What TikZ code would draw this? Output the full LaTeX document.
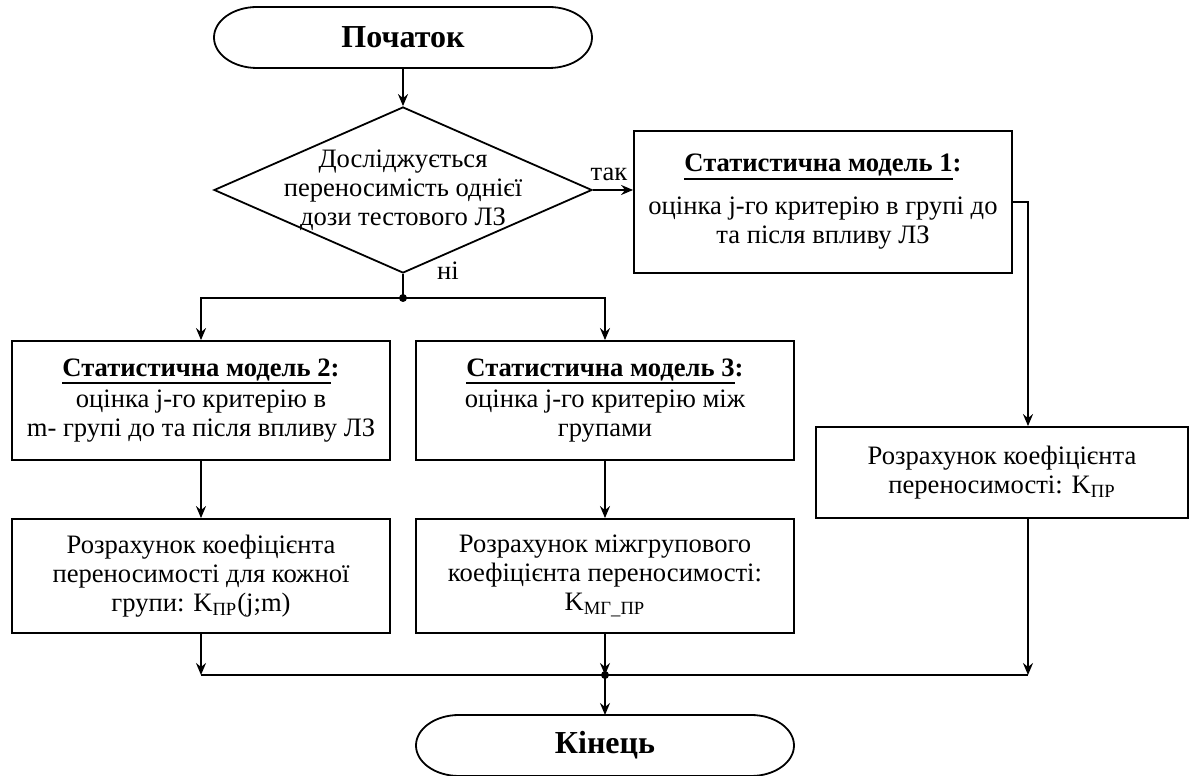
\documentclass[tikz,border=0pt]{standalone}
\usepackage{fontspec}
\setmainfont{Liberation Serif}
\usetikzlibrary{calc,arrows.meta,positioning,shapes.geometric}

% підкреслення заголовків моделей
\newcommand{\pidkr}[1]{\vtop{\hbox{#1}\kern0.6pt\hrule height 1pt}}

\tikzset{
  tekst/.style={font=\fontsize{13.3}{14.5}\selectfont},
  blok/.style={tekst, draw, line width=0.9pt, align=center, inner sep=0pt,
    minimum width=189pt},
  termin/.style={inner sep=0pt, outer sep=0pt, minimum width=189pt, minimum height=30.5pt,
    font=\fontsize{16}{18}\selectfont\bfseries},
  rishennia/.style={draw, line width=0.9pt, diamond, inner sep=0pt,
    minimum width=189pt, minimum height=83pt},
}

\begin{document}
\begin{tikzpicture}[x=0.5pt, y=0.5pt, line width=0.9pt,
    >={Stealth[length=6pt, width=5pt, inset=2pt]}]
       \useasboundingbox (0,0) rectangle (1190,776);

       %початок і кінець
       \node[termin] (tStart) at (403,738.5) {Початок};
       \node[termin] (tEnd) at (605,30.5) {Кінець};
       \foreach \t in {tStart,tEnd}
       {
           \draw ([xshift=21.5pt]\t.north west) -- ([xshift=-21.5pt]\t.north east)
             arc[start angle=90, end angle=-90, x radius=21.5pt, y radius=15.25pt]
             -- ([xshift=21.5pt]\t.south west)
             arc[start angle=270, end angle=90, x radius=21.5pt, y radius=15.25pt]
             -- cycle;
       };

       %умова
       \node[rishennia] (dQuestion) at (403,586) {};
       \node[tekst, align=center] (tQuestion) at (dQuestion)
         {Досліджується\\переносимість однієї\\дози тестового ЛЗ};

       %статистичні моделі
       \node[blok, minimum width=189pt, minimum height=71pt] (bModelOne) at (823,574)
         {\textbf{\pidkr{Статистична модель 1}:}\\[7pt]
          оцінка j-го критерію в групі до\\та після впливу ЛЗ};
       \node[blok, minimum height=59.5pt] (bModelTwo) at (201,375.5)
         {\textbf{\pidkr{Статистична модель 2}:}\\[1pt]
          оцінка j-го критерію в\\m- групі до та після впливу ЛЗ};
       \node[blok, minimum height=59.5pt] (bModelThree) at (605,375.5)
         {\textbf{\pidkr{Статистична модель 3}:}\\[1pt]
          оцінка j-го критерію між\\групами};

       %розрахунок коефіцієнтів
       \node[blok, minimum width=186pt, minimum height=45.5pt] (bCoefOne) at (1002,303.5)
         {Розрахунок коефіцієнта\\переносимості: K\textsubscript{ПР}};
       \node[blok, minimum height=57pt] (bCoefTwo) at (201,200)
         {Розрахунок коефіцієнта\\переносимості для кожної\\групи: K\textsubscript{ПР}(j;m)};
       \node[blok, minimum height=57pt] (bCoefThree) at (605,200)
         {Розрахунок міжгрупового\\коефіцієнта переносимості:\\K\textsubscript{МГ\_ПР}};

       \node[tekst] (lTak) at (609,602) {так};
       \node[tekst] (lNi) at (448,505) {ні};

       %точки розгалуження
       \coordinate (cSplit) at (dQuestion.south |- 0,478);
       \coordinate (cTurn) at (1028,574);
       \coordinate (cJoin) at (bCoefThree.south |- 0,101);
       \coordinate (cLeft) at (bCoefTwo.south |- cJoin);
       \coordinate (cRight) at (cTurn |- cJoin);

       \draw[->] (tStart) -- (dQuestion);
       \draw[->] (dQuestion.east) -- (dQuestion.east -| bModelOne.west);
       \draw (dQuestion.south) -- (cSplit);
       \draw[->] (cSplit) -| (bModelTwo.north);
       \draw[->] (cSplit) -| (bModelThree.north);
       \draw[->] (bModelOne.east) -- (cTurn) -- (cTurn |- bCoefOne.north);
       \draw[->] (bModelTwo) -- (bCoefTwo);
       \draw[->] (bModelThree) -- (bCoefThree);
       \draw[->] (bCoefTwo) -- (cLeft);
       \draw[->] (bCoefThree) -- (cJoin);
       \draw[->] (cTurn |- bCoefOne.south) -- (cRight);
       \draw (cLeft) -- (cRight);
       \draw[->] (cJoin) -- (tEnd);

       \foreach \c in {cSplit,cJoin}
       {
           \fill (\c) circle (2pt);
       };
\end{tikzpicture}
\end{document}
